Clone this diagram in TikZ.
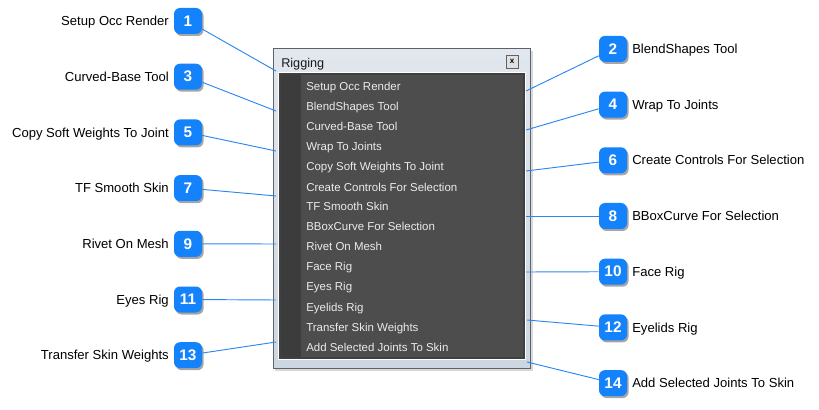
\documentclass[tikz,border=0pt]{standalone}
\usepackage{fontspec}
\setmainfont{Liberation Sans}
\usetikzlibrary{shadows}
\definecolor{badgeblue}{HTML}{1482FA}
\definecolor{leadblue}{HTML}{2C86F2}
\definecolor{frameblue}{HTML}{CDD7E1}
\definecolor{frameedge}{HTML}{5C636B}
\definecolor{paneldark}{HTML}{4D4D4D}
\definecolor{panelcol}{HTML}{3C3C3C}
\definecolor{menutext}{HTML}{EBEBEB}
\begin{document}
\begin{tikzpicture}[
  x=0.75pt, y=-0.75pt,
  badge/.style={rectangle, rounded corners=4.5pt, fill=badgeblue, text=white,
    minimum width=21pt, minimum height=19.5pt, inner sep=0pt,
    font=\fontsize{11.5}{12}\selectfont\bfseries,
    drop shadow={shadow xshift=1.2pt, shadow yshift=-1.5pt, opacity=0.35, fill=black}},
  lefttag/.style={anchor=east, font=\fontsize{9.8}{11}\selectfont, text=black, inner sep=0pt,
    text height=8pt, text depth=1pt},
  righttag/.style={anchor=west, font=\fontsize{9.8}{11}\selectfont, text=black, inner sep=0pt,
    text height=8pt, text depth=1pt},
  item/.style={anchor=west, font=\fontsize{8.6}{10}\selectfont, text=menutext, inner sep=0pt,
    text height=7pt, text depth=1pt},
  lead/.style={draw=leadblue, line width=0.7pt}
]
\useasboundingbox (0,0) rectangle (819,410);

% Window
\fill[black, opacity=0.15] (275,51) rectangle (533,371);
\draw[frameedge, top color=frameblue!60, bottom color=frameblue, line width=0.75pt]
  (273,49) rectangle (530,368);
\node[anchor=west, font=\fontsize{9.5}{11}\selectfont, text=black!90, inner sep=0pt,
  text height=8pt, text depth=1pt] (title) at (281,63) {Rigging};
\node[draw=frameedge, fill=black!12, minimum width=9pt, minimum height=9.5pt, inner sep=0pt,
  font=\fontsize{6}{6}\selectfont\bfseries] (close) at (512,61.5) {x};
\draw[white, fill=black!75, line width=0.75pt] (278,73) rectangle (525,359);
\fill[paneldark] (280.5,75.5) rectangle (522.5,356.5);
\fill[panelcol] (280.5,75.5) rectangle (301,356.5);

% Menu
\node[item] (m1) at (306,87) {Setup Occ Render};
\node[item] (m2) at (306,107) {BlendShapes Tool};
\node[item] (m3) at (306,127) {Curved-Base Tool};
\node[item] (m4) at (306,147) {Wrap To Joints};
\node[item] (m5) at (306,167) {Copy Soft Weights To Joint};
\node[item] (m6) at (306,187) {Create Controls For Selection};
\node[item] (m7) at (306,207) {TF Smooth Skin};
\node[item] (m8) at (306,227) {BBoxCurve For Selection};
\node[item] (m9) at (306,247) {Rivet On Mesh};
\node[item] (m10) at (306,267) {Face Rig};
\node[item] (m11) at (306,287) {Eyes Rig};
\node[item] (m12) at (306,307) {Eyelids Rig};
\node[item] (m13) at (306,327) {Transfer Skin Weights};
\node[item] (m14) at (306,347) {Add Selected Joints To Skin};

% Anchor points on the window
\coordinate (p1) at (276,71);
\coordinate (p3) at (276,111);
\coordinate (p5) at (276,151);
\coordinate (p7) at (276,196);
\coordinate (p9) at (276,244);
\coordinate (p11) at (276,300);
\coordinate (p13) at (276,342);
\coordinate (p2) at (526,91);
\coordinate (p4) at (526,130);
\coordinate (p6) at (526,171);
\coordinate (p8) at (526,216);
\coordinate (p10) at (526,272);
\coordinate (p12) at (527,320);
\coordinate (p14) at (527,362);

% Badges
\node[badge] (b1) at (188,21) {1};
\node[badge] (b3) at (188,76.7) {3};
\node[badge] (b5) at (188,132.4) {5};
\node[badge] (b7) at (188,188.1) {7};
\node[badge] (b9) at (188,243.8) {9};
\node[badge] (b11) at (188,299.5) {11};
\node[badge] (b13) at (188,355.2) {13};
\node[badge] (b2) at (613,48.9) {2};
\node[badge] (b4) at (613,104.6) {4};
\node[badge] (b6) at (613,160.3) {6};
\node[badge] (b8) at (613,216) {8};
\node[badge] (b10) at (613,271.7) {10};
\node[badge] (b12) at (613,327.4) {12};
\node[badge] (b14) at (613,383.1) {14};

% Labels
\node[lefttag] (l1) at (169,21) {Setup Occ Render};
\node[lefttag] (l3) at (169,76.7) {Curved-Base Tool};
\node[lefttag] (l5) at (169,132.4) {Copy Soft Weights To Joint};
\node[lefttag] (l7) at (169,188.1) {TF Smooth Skin};
\node[lefttag] (l9) at (169,243.8) {Rivet On Mesh};
\node[lefttag] (l11) at (169,299.5) {Eyes Rig};
\node[lefttag] (l13) at (169,355.2) {Transfer Skin Weights};
\node[righttag] (l2) at (632,48.9) {BlendShapes Tool};
\node[righttag] (l4) at (632,104.6) {Wrap To Joints};
\node[righttag] (l6) at (632,160.3) {Create Controls For Selection};
\node[righttag] (l8) at (632,216) {BBoxCurve For Selection};
\node[righttag] (l10) at (632,271.7) {Face Rig};
\node[righttag] (l12) at (632,327.4) {Eyelids Rig};
\node[righttag] (l14) at (632,383.1) {Add Selected Joints To Skin};

% Leaders
\draw[lead] (b1) -- (p1);
\draw[lead] (b3) -- (p3);
\draw[lead] (b5) -- (p5);
\draw[lead] (b7) -- (p7);
\draw[lead] (b9) -- (p9);
\draw[lead] (b11) -- (p11);
\draw[lead] (b13) -- (p13);
\draw[lead] (b2) -- (p2);
\draw[lead] (b4) -- (p4);
\draw[lead] (b6) -- (p6);
\draw[lead] (b8) -- (p8);
\draw[lead] (b10) -- (p10);
\draw[lead] (b12) -- (p12);
\draw[lead] (b14) -- (p14);

\end{tikzpicture}
\end{document}
